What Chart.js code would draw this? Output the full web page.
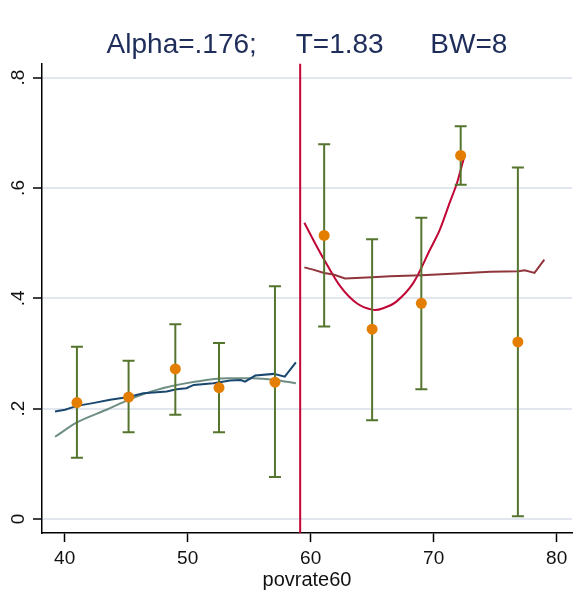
<!DOCTYPE html>
<html>
<head>
<meta charset="utf-8">
<script src="https://cdn.jsdelivr.net/npm/chart.js@4/dist/chart.umd.min.js"></script>
<style>
  html, body { margin: 0; padding: 0; background: #fff; }
  #wrap { width: 587px; height: 614px; }
</style>
</head>
<body>
<div id="wrap"><canvas id="rdChart" width="587" height="614"></canvas></div>
<script>
/* =====================
   DATA
===================== */
const titleText = "Alpha=.176;     T=1.83      BW=8";
const xTitle = "povrate60";

const xTicks = [40, 50, 60, 70, 80];
const yTicks = [0, 0.2, 0.4, 0.6, 0.8];
const yTickLabels = ["0", ".2", ".4", ".6", ".8"];

const xMin = 38.16, xMax = 81.25;
const yMin = -0.0254, yMax = 0.8254;
const cutoff = 59.15;

// bin means + confidence intervals
const binX    = [41.0, 45.2, 49.0, 52.55, 57.1, 61.1, 65.0, 69.0, 72.2, 76.85];
const binMean = [0.211, 0.221, 0.272, 0.238, 0.248, 0.514, 0.344, 0.391, 0.659, 0.321];
const ciLow   = [0.111, 0.157, 0.189, 0.157, 0.076, 0.349, 0.179, 0.235, 0.606, 0.005];
const ciHigh  = [0.312, 0.287, 0.353, 0.319, 0.422, 0.679, 0.507, 0.546, 0.712, 0.637];

// left side: local linear (navy)
const leftLlX = [39.22, 40.03, 41.0, 42.3, 43.7, 45.2, 46.4, 48.3, 49.1, 49.9, 50.5, 52.1, 53.45, 54.3, 54.67, 55.5, 57.0, 57.9, 58.8];
const leftLlY = [0.195, 0.198, 0.205, 0.210, 0.216, 0.221, 0.228, 0.231, 0.235, 0.237, 0.243, 0.246, 0.251, 0.252, 0.249, 0.260, 0.263, 0.258, 0.284];

// left side: polynomial fit (teal)
const leftPolyX = [39.22, 41.0, 43.4, 45.2, 47.5, 50.7, 53.2, 55.3, 57.1, 58.8];
const leftPolyY = [0.149, 0.175, 0.198, 0.216, 0.234, 0.249, 0.255, 0.255, 0.252, 0.246];

// right side: local linear (maroon)
const rightLlX = [59.49, 60.2, 61.1, 61.85, 62.8, 65.0, 66.45, 69.0, 71.9, 74.6, 76.9, 77.4, 78.2, 79.0];
const rightLlY = [0.456, 0.452, 0.446, 0.443, 0.436, 0.438, 0.440, 0.442, 0.445, 0.448, 0.449, 0.451, 0.446, 0.470];

// right side: polynomial fit (cranberry)
const rightPolyX = [59.49, 60.5, 61.1, 62.4, 63.75, 65.1, 65.9, 66.97, 68.35, 69.7, 70.5, 71.3, 71.9, 72.47];
const rightPolyY = [0.537, 0.494, 0.470, 0.422, 0.391, 0.379, 0.382, 0.394, 0.428, 0.488, 0.524, 0.573, 0.609, 0.655];

/* =====================
   HELPERS
===================== */
const pts = (xs, ys) => xs.map((x, i) => ({ x: x, y: ys[i] }));

// error bars as one broken line: lo -> hi, then a gap
const ciPoints = [];
binX.forEach((x, i) => {
  ciPoints.push({ x: x, y: ciLow[i] });
  ciPoints.push({ x: x, y: ciHigh[i] });
  ciPoints.push({ x: x, y: null });
});

const FONT = "'Liberation Sans', Arial, sans-serif";

/* =====================
   CHART
===================== */
new Chart(document.getElementById("rdChart"), {
  type: "scatter",
  data: {
    datasets: [
      {
        label: "means",
        data: pts(binX, binMean),
        backgroundColor: "#e37e00",
        borderColor: "#e37e00",
        pointRadius: 5.5,
        pointHoverRadius: 5.5,
        borderWidth: 0,
        order: 0
      },
      {
        label: "ci",
        data: ciPoints,
        showLine: true,
        spanGaps: false,
        borderColor: "#55752f",
        borderWidth: 2,
        pointStyle: "line",
        pointRadius: 6,
        pointBorderColor: "#55752f",
        pointBorderWidth: 2,
        order: 1
      },
      {
        label: "left ll",
        data: pts(leftLlX, leftLlY),
        showLine: true,
        borderColor: "#1a476f",
        borderWidth: 2,
        pointRadius: 0,
        order: 2
      },
      {
        label: "left poly",
        data: pts(leftPolyX, leftPolyY),
        showLine: true,
        borderColor: "#6e8e84",
        borderWidth: 2,
        pointRadius: 0,
        tension: 0.4,
        cubicInterpolationMode: "monotone",
        order: 2
      },
      {
        label: "right ll",
        data: pts(rightLlX, rightLlY),
        showLine: true,
        borderColor: "#90353b",
        borderWidth: 2,
        pointRadius: 0,
        order: 2
      },
      {
        label: "right poly",
        data: pts(rightPolyX, rightPolyY),
        showLine: true,
        borderColor: "#c10534",
        borderWidth: 2,
        pointRadius: 0,
        tension: 0.3,
        order: 2
      },
      {
        label: "cutoff",
        data: [{ x: cutoff, y: yMin }, { x: cutoff, y: yMax }],
        showLine: true,
        borderColor: "#c10534",
        borderWidth: 2,
        pointRadius: 0,
        order: 3
      }
    ]
  },
  options: {
    responsive: false,
    animation: false,
    events: [],
    layout: { padding: { left: 0, right: 15, top: 0, bottom: 0 } },
    plugins: {
      legend: { display: false },
      tooltip: { enabled: false },
      title: {
        display: true,
        text: titleText,
        fullSize: false,
        color: "#1e2d5a",
        font: { family: FONT, size: 28, weight: "normal" },
        padding: { top: 28, bottom: 2 }
      }
    },
    scales: {
      x: {
        type: "linear",
        min: xMin,
        max: xMax,
        afterFit: s => { s.height = 81; },
        afterBuildTicks: s => { s.ticks = xTicks.map(v => ({ value: v })); },
        ticks: {
          color: "#111",
          font: { family: FONT, size: 19 },
          padding: 5,
          maxRotation: 0,
          callback: v => String(v)
        },
        grid: {
          display: true,
          drawOnChartArea: false,
          tickLength: 9,
          tickColor: "#000",
          tickWidth: 1.5
        },
        border: { display: true, color: "#000", width: 1.5 },
        title: {
          display: true,
          text: xTitle,
          color: "#111",
          font: { family: FONT, size: 20 },
          padding: { top: 0, bottom: 22 }
        }
      },
      y: {
        type: "linear",
        min: yMin,
        max: yMax,
        afterFit: s => { s.width = 42; },
        afterBuildTicks: s => { s.ticks = yTicks.map(v => ({ value: v })); },
        ticks: {
          color: "#111",
          font: { family: FONT, size: 19 },
          padding: 6,
          minRotation: 90,
          maxRotation: 90,
          crossAlign: "center",
          callback: v => yTickLabels[yTicks.findIndex(t => Math.abs(t - v) < 1e-6)]
        },
        grid: {
          color: "#e1e6ef",
          lineWidth: 2,
          tickLength: 9,
          tickColor: "#000",
          tickWidth: 1.5
        },
        border: { display: true, color: "#000", width: 1.5 }
      }
    }
  }
});
</script>
</body>
</html>
